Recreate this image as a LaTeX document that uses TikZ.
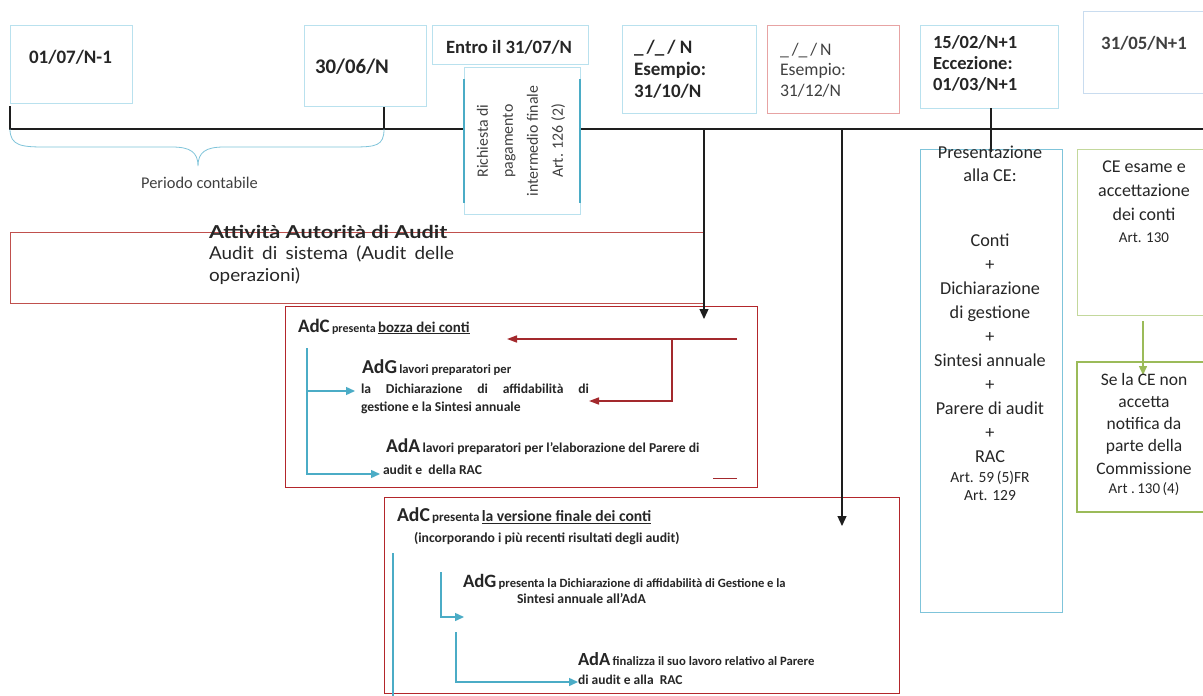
\documentclass[tikz,border=0pt]{standalone}
\usepackage{fontspec}
\setmainfont{Carlito}
\newfontfamily\gillf[FakeStretch=1.06]{Lato}
\newfontfamily\gillb[FakeStretch=1.22]{Lato}
\usetikzlibrary{arrows.meta}
\definecolor{txt}{HTML}{262626}
\definecolor{txtg}{HTML}{404040}
\definecolor{lblue}{HTML}{B9E1EE}
\definecolor{pinkb}{HTML}{E7A3A3}
\definecolor{greyb}{HTML}{C9DCEF}
\definecolor{tealc}{HTML}{4BACC6}
\definecolor{presb}{HTML}{7FC4DA}
\definecolor{lgrn}{HTML}{C3D89C}
\definecolor{grn}{HTML}{9BBB59}
\definecolor{redbox}{HTML}{B3262B}
\definecolor{redboxb}{HTML}{C0504D}
\definecolor{redarr}{HTML}{A3292D}
\definecolor{tline}{HTML}{1E1E1E}
\newcommand\fsz[2]{\fontsize{#1}{#2}\selectfont}
\begin{document}
\begin{tikzpicture}[x=1pt,y=-1pt,
  every node/.style={inner sep=0pt,outer sep=0pt},
  box/.style={anchor=north west,fill=white,inner sep=0pt,line width=0.9pt},
  tlbox/.style={box,draw=lblue},
  lbl/.style={text=txt,inner sep=0pt},
  bluearr/.style={draw=tealc,line width=1.4pt,-{Triangle[width=8pt,length=9pt]}},
  blueln/.style={draw=tealc,line width=1.4pt},
  redarrow/.style={draw=redarr,line width=1.6pt,-{Triangle[width=7pt,length=10pt]}},
  blackarr/.style={draw=tline,line width=1.2pt,-{Triangle[width=9pt,length=10pt]}},
  grnarr/.style={draw=grn,line width=1.5pt,-{Triangle[width=8pt,length=9pt]}}]
\useasboundingbox[fill=white] (0,0) rectangle (1203,696);

% timeline
\coordinate (tA) at (10,106);
\coordinate (tB) at (10,129);
\coordinate (tC) at (384,129);
\coordinate (tD) at (384,106);
\coordinate (tE) at (1203,129);
\draw[tline,line width=1.3pt] (tA) -- (tB) -- (tC);
\draw[tline,line width=1.8pt] (tD) -- (tC) -- (tE);
% brace
\draw[presb,line width=0.8pt] (tB) .. controls (10,146) and (22,147) .. (45,147) -- (172,147)
  .. controls (190,147) and (198,152) .. (198,166)
  .. controls (198,152) and (206,147) .. (224,147) -- (352,147)
  .. controls (376,147) and (384,146) .. (tC);
\node[lbl,anchor=base,font=\fsz{16.4}{19},text=txtg] (per) at (199.5,188) {Periodo contabile};

% top boxes
\node[tlbox,minimum width=122pt,minimum height=78pt] (b1) at (10,25) {};
\node[tlbox,minimum width=122pt,minimum height=81pt] (b2) at (304,25) {};
\node[tlbox,minimum width=156pt,minimum height=39pt] (b3) at (432,25) {};
\node[tlbox,minimum width=116pt,minimum height=147pt] (rq) at (464,67) {};
\draw[tealc,line width=2pt] ([yshift=-12pt]rq.north west) -- ([yshift=11pt]rq.south west);
\draw[tealc,line width=2pt] ([yshift=-12pt]rq.north east) -- ([yshift=11pt]rq.south east);
\node[tlbox,minimum width=134pt,minimum height=88pt] (b5) at (622,25) {};
\node[box,draw=pinkb,minimum width=132pt,minimum height=88pt] (b6) at (767,25) {};
\node[tlbox,minimum width=138pt,minimum height=83pt] (b7) at (920,25) {};
\node[box,draw=greyb,minimum width=132pt,minimum height=82pt] (b8) at (1083,11) {};

% right column boxes
\node[box,draw=presb,minimum width=142pt,minimum height=463pt] (pres) at (920,149) {};
\node[box,draw=lgrn,minimum width=138pt,minimum height=166pt] (ce) at (1077,149) {};
\node[box,draw=grn,line width=1.5pt,minimum width=138pt,minimum height=150pt] (se) at (1077,362) {};

% audit boxes
\node[box,draw=redboxb,minimum width=694pt,minimum height=71pt] (att) at (10,232) {};
\node[box,draw=redbox,minimum width=472pt,minimum height=181pt] (adc1) at (285,306) {};
\node[box,draw=redbox,minimum width=515pt,minimum height=196pt] (adc2) at (384,497) {};

% connectors from timeline
\coordinate (v1t) at (704,129);
\coordinate (v1b) at (704,319);
\draw[blackarr] (v1t) -- (v1b);
\coordinate (v2t) at (842,129);
\coordinate (v2b) at (842,526);
\draw[blackarr] (v2t) -- (v2b);
\draw[tline,line width=1.5pt] (b7.south -| pres.north) -- ([yshift=-3pt]pres.north);
\coordinate (g1s) at (1143,321);
\coordinate (g1e) at (1143,375);
\draw[grnarr] (g1s) -- (g1e);

% red arrows in box 1
\coordinate (r1s) at (737,339);
\coordinate (r1e) at (507,339);
\coordinate (r2s) at (672,339);
\coordinate (r2m) at (672,401);
\coordinate (r2e) at (589,401);
\draw[redarrow] (r1s) -- (r1e);
\draw[redarrow] (r2s) -- (r2m) -- (r2e);
\coordinate (r3s) at (713,478);
\coordinate (r3e) at (737,478);
\draw[redarr,line width=1pt] (r3s) -- (r3e);

% blue arrows box 1
\coordinate (q1) at (307,348);
\coordinate (q2) at (307,391);
\coordinate (q3) at (355,391);
\coordinate (q4) at (307,474);
\coordinate (q5) at (380,474);
\draw[bluearr] (q1) -- (q4) -- (q5);
\draw[bluearr] (q2) -- (q3);

% blue arrows box 2
\coordinate (w1) at (393,553);
\coordinate (w2) at (393,700);
\coordinate (w3) at (578,700);
\draw[bluearr] (w1) -- (w2) -- (w3);
\coordinate (w4) at (441,572);
\coordinate (w5) at (441,617);
\coordinate (w6) at (464,617);
\draw[bluearr] (w4) -- (w5) -- (w6);
\coordinate (w7) at (456,632);
\coordinate (w8) at (456,682);
\coordinate (w9) at (578,682);
\draw[bluearr] (w7) -- (w8) -- (w9);

% top texts (multi-line nodes: base = last line)
\node[lbl,anchor=base,font=\bfseries\fsz{19}{22}] (t1) at (70.5,63) {01/07/N-1};
\node[lbl,anchor=base,font=\bfseries\fsz{20.8}{24}] (t2) at (352,73) {30/06/N};
\node[lbl,anchor=base,font=\bfseries\fsz{18.7}{22}] (t3) at (509,53) {Entro il 31/07/N};
\node[lbl,rotate=90,align=center,font=\fsz{15.8}{25},text=txtg] (trq) at (521,141) {Richiesta di\\pagamento\\intermedio finale\\Art. 126 (2)};
\node[lbl,anchor=base west,align=left,font=\bfseries\fsz{19}{22}] (t5) at (634,97) {\_\,/\_\,/ N\\Esempio:\\31/10/N};
\node[lbl,anchor=base west,align=left,font=\fsz{17.7}{20.5},text=txtg] (t6) at (780,96) {\_\,/\_\,/\,N\\Esempio:\\31/12/N};
\node[lbl,anchor=base west,align=left,font=\bfseries\fsz{18.5}{21.3}] (t7) at (933,90.6) {15/02/N+1\\Eccezione:\\01/03/N+1};
\node[lbl,anchor=base,font=\bfseries\fsz{18.8}{22},text=txtg] (t8) at (1144,49) {31/05/N+1};

% right column texts
\node[lbl,anchor=base,align=center,font=\fsz{18.2}{23}] (p1) at (990,181) {Presentazione\\alla CE:};
\node[lbl,anchor=base,align=center,font=\fsz{18.2}{24.1}] (p2) at (990,462.9) {Conti\\+\\Dichiarazione\\di gestione\\+\\Sintesi annuale\\+\\Parere di audit\\+\\RAC};
\node[lbl,anchor=base,align=center,font=\fsz{15.5}{18.3}] (p3) at (990,500.3) {Art. 59\,(5)FR\\Art. 129};
\node[lbl,anchor=base,align=center,font=\fsz{18}{23.7}] (ce1) at (1144,220.1) {CE esame e\\accettazione\\dei conti};
\node[lbl,anchor=base,font=\fsz{15}{18}] (ce2) at (1144,242.7) {Art. 130};
\node[lbl,anchor=base,align=center,font=\fsz{17.5}{22.3}] (se1) at (1144,474.2) {Se la CE non\\accetta\\notifica da\\parte della\\Commissione};
\node[lbl,anchor=base,font=\fsz{15}{18}] (se2) at (1144,493) {Art .\,130\,(4)};

% Attivita block
\node[lbl,anchor=base west,font=\gillb\bfseries\fsz{17.8}{21}] (aa) at (209,238) {Attività Autorità di Audit};
\node[lbl,anchor=base west,align=left,font=\gillf\fsz{17.8}{22}] (ab) at (209,281) {\makebox[245pt][s]{Audit di sistema (Audit delle}\\operazioni)};

% box 1 texts
\node[lbl,anchor=base west,font=\bfseries] (c1) at (298,332) {{\fsz{19}{22}AdC} {\fsz{12}{14}presenta} {\fsz{14.9}{17}\underline{bozza dei conti}}};
\node[lbl,anchor=base west,font=\bfseries] (g1) at (362,373.3) {{\fsz{19.7}{22}AdG} {\fsz{12.6}{15}lavori preparatori per}};
\node[lbl,anchor=base west,font=\bfseries\fsz{13.6}{18}] (g2) at (361,393.3) {\makebox[228pt][s]{la Dichiarazione di affidabilità di}};
\node[lbl,anchor=base west,font=\bfseries\fsz{13.6}{18}] (g3) at (361,411) {gestione e la Sintesi annuale};
\node[lbl,anchor=base west,font=\bfseries] (a1) at (386,452.3) {{\fsz{19.6}{22}AdA} {\fsz{13.6}{16}lavori preparatori per l’elaborazione del Parere di}};
\node[lbl,anchor=base west,font=\bfseries\fsz{13.6}{16}] (a2) at (383,474) {audit e\ \ della RAC};

% box 2 texts
\node[lbl,anchor=base west,font=\bfseries] (c2) at (397,521.7) {{\fsz{19.7}{22}AdC} {\fsz{13}{15}presenta} {\fsz{15.6}{18}\underline{la versione finale dei conti}}};
\node[lbl,anchor=base west,font=\bfseries\fsz{13.7}{16}] (c2b) at (414,542.7) {(incorporando i più recenti risultati degli audit)};
\node[lbl,anchor=base west,font=\bfseries] (g4) at (463,587) {{\fsz{18.8}{22}AdG} {\fsz{12.6}{15}presenta la Dichiarazione di affidabilità di Gestione e la}};
\node[lbl,anchor=base west,font=\bfseries\fsz{13.7}{16}] (g5) at (517,603.3) {Sintesi annuale all’AdA};
\node[lbl,anchor=base west,font=\bfseries] (a3) at (578,665) {{\fsz{18.5}{22}AdA} {\fsz{12.7}{15}finalizza il suo lavoro relativo al Parere}};
\node[lbl,anchor=base west,font=\bfseries\fsz{13.5}{16}] (a4) at (578,684) {di audit e alla\ \ RAC};
\end{tikzpicture}
\end{document}
